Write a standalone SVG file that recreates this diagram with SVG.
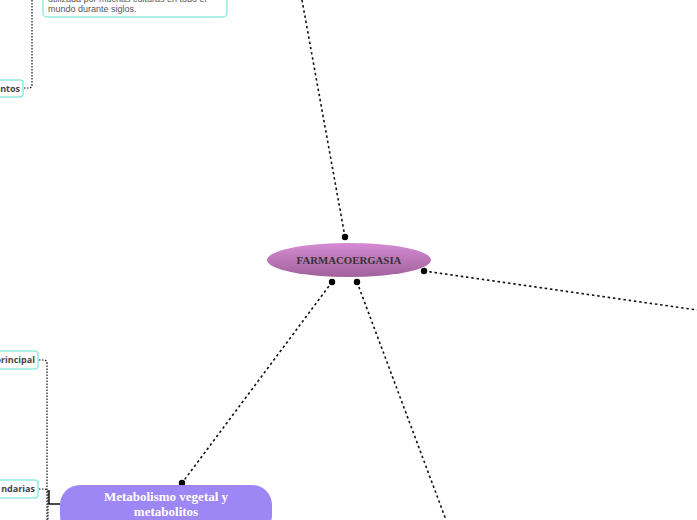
<svg xmlns="http://www.w3.org/2000/svg" width="697" height="520" viewBox="0 0 697 520">
<defs>
<linearGradient id="g1" x1="0" y1="0" x2="0" y2="1">
<stop offset="0" stop-color="#d68bd2"/>
<stop offset="1" stop-color="#a0629c"/>
</linearGradient>
<style>
.con{fill:none;stroke:#111;stroke-width:1.6;stroke-dasharray:2.5,2.8}
.thin{fill:none;stroke:#111;stroke-width:1.2;stroke-dasharray:1.5,1.5}
.dot{fill:#000}
.box{fill:#fff;stroke:#92ebe0;stroke-width:1.5}
.lbl{font-family:"Open Sans","Liberation Sans",sans-serif;font-weight:bold;font-size:9px;fill:#444}
.card{font-family:"Liberation Sans",Arial,sans-serif;font-size:9px;fill:#555}
</style>
</defs>
<rect width="697" height="520" fill="#fff"/>
<g id="connectors">
<line class="con" x1="345" y1="237" x2="302" y2="0"/>
<line class="con" x1="424" y1="271" x2="697" y2="310"/>
<line class="con" x1="357" y1="282" x2="446" y2="520"/>
<line class="con" x1="332" y1="282" x2="182" y2="483"/>
<circle class="dot" cx="345" cy="237" r="3.2"/>
<circle class="dot" cx="424" cy="271" r="3.2"/>
<circle class="dot" cx="357" cy="282" r="3.2"/>
<circle class="dot" cx="332" cy="282" r="3.2"/>
<circle class="dot" cx="182" cy="483" r="3.2"/>
<path class="thin" d="M24,88 H29 Q32,88 32,84 V0"/>
<path class="thin" d="M39,360 H44 Q47,360 47,364 V520"/>
<path class="thin" d="M39,489 H44 Q48,489 48,493 V520"/>
<path d="M49,490 V504 H60" fill="none" stroke="#111" stroke-width="1.5"/>
</g>
<g id="card">
<rect class="box" x="43" y="-20" width="184" height="37" rx="4"/>
<text class="card" x="48" y="1.5">utilizada por muchas culturas en todo el</text>
<text class="card" x="48" y="12">mundo durante siglos.</text>
</g>
<g id="node-ntos">
<rect class="box" x="-10" y="80" width="33" height="17" rx="3"/>
<text class="lbl" x="20" y="91.5" text-anchor="end">ntos</text>
</g>
<g id="node-principal">
<rect class="box" x="-10" y="351" width="48" height="18" rx="3"/>
<text class="lbl" x="35" y="363" text-anchor="end">principal</text>
</g>
<g id="node-ndarias">
<rect class="box" x="-10" y="480" width="48" height="18" rx="3"/>
<text class="lbl" x="35" y="492" text-anchor="end">ndarias</text>
</g>
<g id="node-farmacoergasia">
<ellipse cx="349" cy="260" rx="82" ry="17" fill="url(#g1)"/>
<text x="349" y="264" text-anchor="middle" font-family="'Liberation Serif','Times New Roman',serif" font-weight="bold" font-size="10.8" fill="#333">FARMACOERGASIA</text>
</g>
<g id="node-metabolismo">
<rect x="60" y="485" width="212" height="50" rx="20" fill="#9c87f5"/>
<text x="166" y="501" text-anchor="middle" font-family="'Liberation Serif','Times New Roman',serif" font-weight="bold" font-size="13" fill="#fff">Metabolismo vegetal y</text>
<text x="166" y="516" text-anchor="middle" font-family="'Liberation Serif','Times New Roman',serif" font-weight="bold" font-size="13" fill="#fff">metabolitos</text>
</g>
</svg>
